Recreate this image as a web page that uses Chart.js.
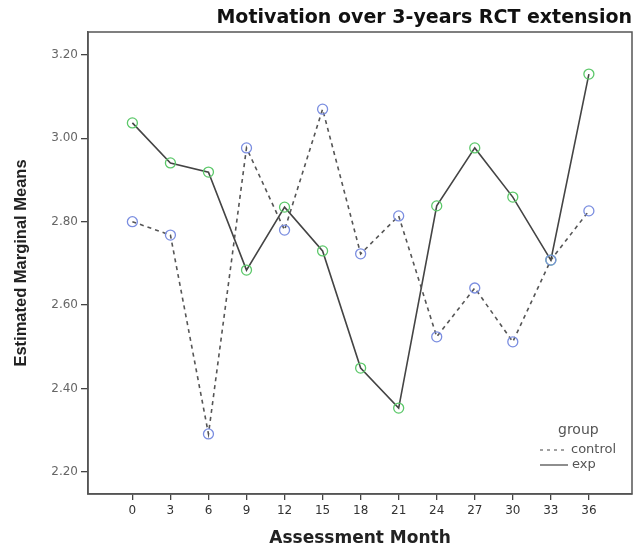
<!DOCTYPE html>
<html>
<head>
<meta charset="utf-8">
<script src="https://cdn.jsdelivr.net/npm/chart.js@4/dist/chart.umd.min.js"></script>
<style>
  html, body { margin: 0; padding: 0; background: #fff; }
  #wrap { width: 640px; height: 549px; }
</style>
</head>
<body>
<div id="wrap"><canvas id="chart"></canvas></div>
<script>
// data
const months = [0, 3, 6, 9, 12, 15, 18, 21, 24, 27, 30, 33, 36];
const controlMeans = [2.800, 2.768, 2.291, 2.977, 2.780, 3.070, 2.723, 2.814, 2.524, 2.641, 2.512, 2.708, 2.826];
const expMeans = [3.037, 2.941, 2.919, 2.684, 2.835, 2.730, 2.449, 2.353, 2.838, 2.977, 2.859, 2.708, 3.154];
const yTicks = [2.2, 2.4, 2.6, 2.8, 3.0, 3.2];

const toPoints = vals => months.map((m, i) => ({ x: m, y: vals[i] }));

// box around the plot + the little "group" legend inside it
const frameAndLegend = {
    id: "frameAndLegend",
    afterDraw(chart) {
        const ctx = chart.ctx;
        const a = chart.chartArea;
        ctx.save();
        ctx.strokeStyle = "#555";
        ctx.lineWidth = 1.5;
        ctx.strokeRect(a.left, a.top, a.right - a.left, a.bottom - a.top);

        const lx = a.right - 92;
        ctx.fillStyle = "#555";
        ctx.font = "14px 'DejaVu Sans'";
        ctx.textBaseline = "middle";
        ctx.fillText("group", lx + 18, a.bottom - 64);

        ctx.font = "13px 'DejaVu Sans'";
        ctx.strokeStyle = "#444";
        ctx.lineWidth = 1.2;
        ctx.setLineDash([3, 4]);
        ctx.beginPath();
        ctx.moveTo(lx, a.bottom - 44);
        ctx.lineTo(lx + 28, a.bottom - 44);
        ctx.stroke();
        ctx.setLineDash([]);
        ctx.beginPath();
        ctx.moveTo(lx, a.bottom - 29);
        ctx.lineTo(lx + 28, a.bottom - 29);
        ctx.stroke();
        ctx.fillText("control", lx + 31, a.bottom - 44);
        ctx.fillText("exp", lx + 32, a.bottom - 29);
        ctx.restore();
    }
};

new Chart(document.getElementById("chart"), {
    type: "line",
    data: {
        datasets: [
            {
                label: "control",
                data: toPoints(controlMeans),
                borderColor: "#555",
                borderWidth: 1.6,
                borderDash: [4, 4],
                pointStyle: "circle",
                pointRadius: 5,
                pointBorderWidth: 1.3,
                pointBorderColor: "#7b8ee0",
                pointBackgroundColor: "rgba(0,0,0,0)",
                tension: 0
            },
            {
                label: "exp",
                data: toPoints(expMeans),
                borderColor: "#444",
                borderWidth: 1.6,
                pointStyle: "circle",
                pointRadius: 5,
                pointBorderWidth: 1.3,
                pointBorderColor: "#5cc86a",
                pointBackgroundColor: "rgba(0,0,0,0)",
                tension: 0
            }
        ]
    },
    options: {
        responsive: true,
        maintainAspectRatio: false,
        animation: false,
        layout: { padding: { left: 0, right: 8, top: 0, bottom: 0 } },
        scales: {
            x: {
                type: "linear",
                min: -3.5,
                max: 39.4,
                afterBuildTicks: s => { s.ticks = months.map(v => ({ value: v })); },
                afterFit: s => { s.height = 55; },
                grid: { drawOnChartArea: false, drawTicks: true, tickLength: 6, color: "#444", lineWidth: 1.3 },
                border: { display: true, color: "#555", width: 1.5 },
                ticks: { color: "#333", font: { family: "DejaVu Sans", size: 12 }, padding: 4, maxRotation: 0 },
                title: {
                    display: true,
                    text: "Assessment Month",
                    color: "#222",
                    font: { family: "DejaVu Sans", size: 17, weight: "bold" },
                    padding: { top: 0, bottom: 0 }
                }
            },
            y: {
                min: 2.147,
                max: 3.255,
                afterBuildTicks: s => { s.ticks = yTicks.map(v => ({ value: v })); },
                afterFit: s => { s.width = 88; },
                grid: { drawOnChartArea: false, drawTicks: true, tickLength: 7, color: "#444", lineWidth: 1.3 },
                border: { display: true, color: "#555", width: 1.5 },
                ticks: {
                    color: "#666",
                    font: { family: "DejaVu Sans", size: 12 },
                    padding: 3,
                    callback: v => v.toFixed(2)
                },
                title: {
                    display: true,
                    text: "Estimated Marginal Means",
                    color: "#222",
                    font: { family: "Liberation Sans", size: 16.5, weight: "bold" },
                    padding: { top: 12, bottom: 0 }
                }
            }
        },
        plugins: {
            legend: { display: false },
            tooltip: { enabled: false },
            title: {
                display: true,
                text: "Motivation over 3-years RCT extension",
                align: "end",
                color: "#111",
                font: { family: "DejaVu Sans", size: 19, weight: "bold", lineHeight: 1.2 },
                padding: { top: 7, bottom: 2.2 }
            }
        }
    },
    plugins: [frameAndLegend]
});
</script>
</body>
</html>
